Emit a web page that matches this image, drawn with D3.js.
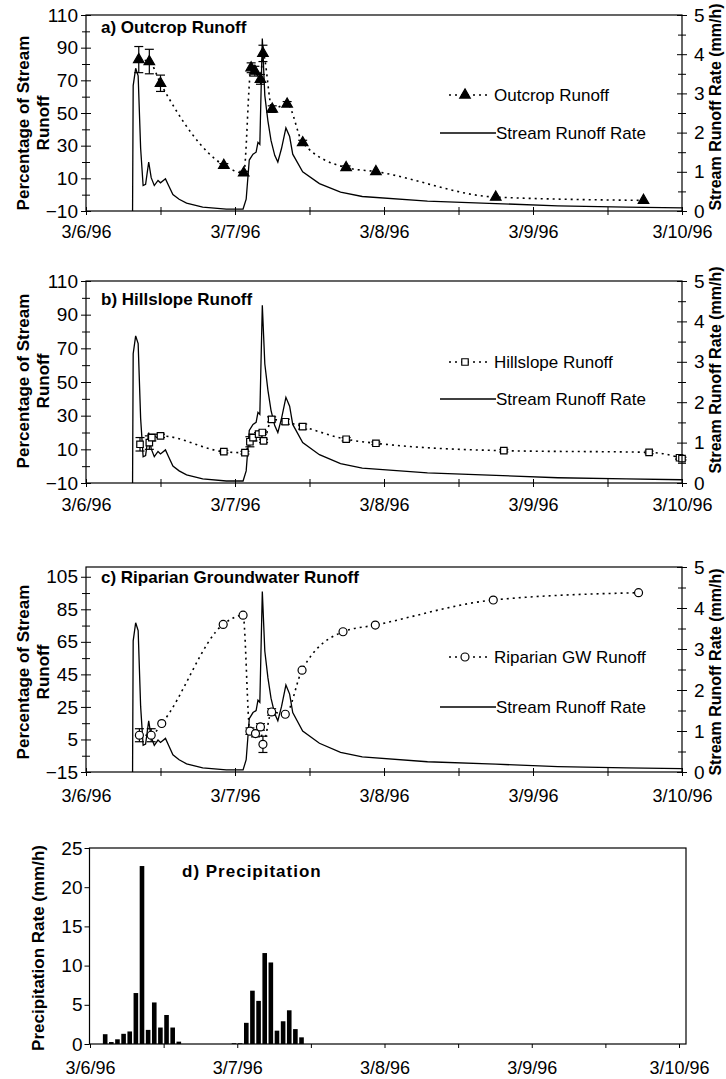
<!DOCTYPE html>
<html>
<head>
<meta charset="utf-8">
<script src="https://cdn.jsdelivr.net/npm/d3@7"></script>
<style>
  body { margin: 0; background: #fff; }
  svg { font-family: "Liberation Sans", Arial, sans-serif; }
</style>
</head>
<body>
<svg id="chart" width="726" height="1079"></svg>
<script>
// all times are hours since 3/6/96 00:00
const dayLabels = ["3/6/96", "3/7/96", "3/8/96", "3/9/96", "3/10/96"];

// stream runoff rate (mm/h), right axis of panels a-c
const streamHour = [7.5, 7.6, 8.0, 8.4, 8.8, 9.2, 9.6, 10.1, 10.5, 11.0, 11.6, 12.0, 12.8, 13.3, 14.0, 15.0, 16.2, 18.8, 22.6, 25.3,
  25.8, 26.3, 26.9, 27.4, 27.7, 28.0, 28.4, 28.8, 29.3, 29.8, 30.4, 30.9, 31.5, 32.2, 32.8, 33.3, 34.9, 37.6, 41.0, 44.5,
  55.0, 66.0, 76.0, 87.0, 96.0];
const streamRate = [0, 3.2, 3.64, 3.45, 1.6, 0.65, 0.68, 1.25, 0.85, 0.65, 0.78, 0.72, 0.82, 0.65, 0.42, 0.3, 0.2, 0.1, 0.05, 0.05,
  0.3, 1.3, 1.45, 1.5, 1.75, 1.7, 4.4, 2.95, 2.3, 1.8, 1.42, 1.25, 1.6, 2.12, 1.9, 1.45, 1.0, 0.7, 0.48, 0.37,
  0.25, 0.19, 0.13, 0.1, 0.08];

// a) outcrop runoff, % of stream runoff
const outcropHour = [8.5, 10.2, 12.0, 22.2, 25.4, 26.6, 27.2, 28.1, 28.5, 30.0, 32.4, 34.9, 41.9, 46.7, 66.0, 89.8];
const outcropPct = [82.7, 81.5, 68.2, 18.0, 13.3, 77.7, 75.6, 70.6, 86.5, 52.4, 55.5, 31.8, 16.6, 14.1, -1.5, -3.5];
const outcropErr = [8, 7.5, 5, 1, 1, 3, 3, 3, 5, 2, 1.5, 1.5, 1, 0, 0, 0];

// b) hillslope runoff
const hillHour = [8.7, 10.2, 10.6, 12.0, 22.2, 25.6, 26.4, 26.9, 27.8, 28.4, 28.6, 29.9, 32.1, 34.9, 41.9, 46.7, 67.3, 90.7, 95.6, 96.0];
const hillPct = [13, 14, 17, 18, 8.6, 8.0, 14.5, 17, 19, 20, 15, 27.8, 26.4, 23.5, 16.0, 13.6, 9.2, 8.2, 5.0, 4.5];
const hillErr = [4, 4, 2, 1, 0.8, 0.8, 3, 2, 1, 1, 1, 1.5, 1.5, 1.5, 1, 0.8, 0.8, 0.8, 0.8, 0.8];

// c) riparian groundwater runoff
const riparianHour = [8.6, 10.5, 12.2, 22.1, 25.3, 26.4, 27.3, 28.1, 28.5, 29.9, 32.1, 34.8, 41.4, 46.6, 65.6, 89.0];
const riparianPct = [7.6, 7.6, 14.8, 75.7, 81.4, 10.1, 8.6, 12.7, 2.0, 21.9, 20.5, 47.6, 71.2, 75.3, 90.7, 95.2];
const riparianErr = [4, 4, 0, 0, 0, 2, 2, 2, 5, 2, 0, 0, 0, 0, 0, 0];

// d) hourly precipitation (mm/h), hour = start of interval
const precipHour = [2, 3, 4, 5, 6, 7, 8, 9, 10, 11, 12, 13, 14, 23, 24, 25, 26, 27, 28, 29, 30, 31, 32, 33, 34];
const precipRate = [1.25, 0.25, 0.6, 1.3, 1.6, 6.5, 22.7, 1.8, 5.3, 2.1, 3.7, 2.1, 0.3, 0.1, 0.1,
  2.7, 6.8, 5.5, 11.6, 10.4, 1.7, 2.9, 4.3, 1.9, 0.85];

const FONT = '"Liberation Sans", Arial, sans-serif';
const svg = d3.select("#chart");

function styleAxis(g, size) {
  g.attr("font-size", size).attr("font-family", FONT);
  g.select(".domain").remove();
  g.selectAll(".tick text").attr("fill", "#000");
  g.selectAll(".tick line").attr("stroke", "#000");
}

function runoffPanel(p) {
  const g = svg.append("g");
  const x = d3.scaleLinear().domain([0, 96]).range([86, 682]);
  const yL = d3.scaleLinear().domain(p.pctDomain).range([p.bottom, p.top]);
  const yR = d3.scaleLinear().domain([0, 5]).range([p.bottom, p.top]);

  // stream runoff rate
  g.append("path")
    .datum(d3.range(streamHour.length))
    .attr("d", d3.line().x(i => x(streamHour[i])).y(i => yR(streamRate[i])))
    .attr("fill", "none")
    .attr("stroke", "#000")
    .attr("stroke-width", 1.3);

  // dotted tracer series
  const idx = d3.range(p.hour.length);
  g.append("path")
    .datum(idx)
    .attr("d", d3.line().curve(d3.curveMonotoneX).x(i => x(p.hour[i])).y(i => yL(p.pct[i])))
    .attr("fill", "none")
    .attr("stroke", "#000")
    .attr("stroke-width", 1.6)
    .attr("stroke-dasharray", "2,4");

  // error bars
  const eb = g.selectAll(".eb").data(idx.filter(i => p.err[i] > 0)).enter().append("g");
  eb.append("line")
    .attr("x1", i => x(p.hour[i])).attr("x2", i => x(p.hour[i]))
    .attr("y1", i => yL(p.pct[i] - p.err[i])).attr("y2", i => yL(p.pct[i] + p.err[i]));
  eb.append("line")
    .attr("x1", i => x(p.hour[i]) - 4.5).attr("x2", i => x(p.hour[i]) + 4.5)
    .attr("y1", i => yL(p.pct[i] + p.err[i])).attr("y2", i => yL(p.pct[i] + p.err[i]));
  eb.append("line")
    .attr("x1", i => x(p.hour[i]) - 4.5).attr("x2", i => x(p.hour[i]) + 4.5)
    .attr("y1", i => yL(p.pct[i] - p.err[i])).attr("y2", i => yL(p.pct[i] - p.err[i]));
  eb.selectAll("line").attr("stroke", "#000").attr("stroke-width", 1.2);

  // markers
  const sym = d3.symbol().type(p.symbol).size(p.symSize);
  g.selectAll(".mk").data(idx).enter().append("path")
    .attr("d", sym)
    .attr("transform", i => `translate(${x(p.hour[i])},${yL(p.pct[i])})`)
    .attr("fill", p.filled ? "#000" : "#fff")
    .attr("stroke", "#000")
    .attr("stroke-width", 1.2);

  // frame
  g.append("rect")
    .attr("x", 86).attr("y", p.top)
    .attr("width", 596).attr("height", p.bottom - p.top)
    .attr("fill", "none").attr("stroke", "#000").attr("stroke-width", 1.2);

  // left axis
  const la = g.append("g").attr("transform", "translate(86,0)")
    .call(d3.axisLeft(yL).tickValues(p.major).tickSize(5).tickPadding(3));
  styleAxis(la, 19);
  la.selectAll(".tick line").attr("x1", 5);
  const lm = g.append("g").attr("transform", "translate(86,0)")
    .call(d3.axisLeft(yL).tickValues(p.minor).tickSize(4).tickFormat(""));
  styleAxis(lm, 19);
  lm.selectAll(".tick line").attr("x1", 4);

  // right axis
  const ra = g.append("g").attr("transform", "translate(682,0)")
    .call(d3.axisRight(yR).tickValues([0, 1, 2, 3, 4, 5]).tickFormat(d3.format("d")).tickSize(5).tickPadding(7));
  styleAxis(ra, 19);
  ra.selectAll(".tick line").attr("x1", -5);
  const rm = g.append("g").attr("transform", "translate(682,0)")
    .call(d3.axisRight(yR).tickValues([0.5, 1.5, 2.5, 3.5, 4.5]).tickSize(4).tickFormat(""));
  styleAxis(rm, 19);
  rm.selectAll(".tick line").attr("x1", -4);

  // time axis
  const xa = g.append("g").attr("transform", `translate(0,${p.bottom})`)
    .call(d3.axisBottom(x).tickValues(d3.range(0, 97, 12)).tickSize(4).tickPadding(p.datePad)
      .tickFormat(h => h % 24 === 0 ? dayLabels[h / 24] : ""));
  styleAxis(xa, 18);
  xa.selectAll(".tick line").attr("y1", -4);

  // titles
  g.append("text").attr("x", 101).attr("y", p.titleY)
    .attr("font-size", 17).attr("font-weight", "bold").text(p.title);

  const lt = g.append("text")
    .attr("transform", `translate(29,${p.leftTitleY}) rotate(-90)`)
    .attr("text-anchor", "middle").attr("font-size", 17).attr("font-weight", "bold");
  lt.append("tspan").attr("x", 0).attr("y", 0).text("Percentage of Stream");
  lt.append("tspan").attr("x", 0).attr("y", 19.5).text("Runoff");

  g.append("text")
    .attr("transform", `translate(721,${p.rightTitleY}) rotate(-90)`)
    .attr("text-anchor", "middle").attr("font-size", 16).attr("font-weight", "bold")
    .text("Stream Runoff Rate (mm/h)");

  // legend
  g.append("line").attr("x1", 449).attr("x2", 490).attr("y1", p.legY1).attr("y2", p.legY1)
    .attr("stroke", "#000").attr("stroke-width", 1.6).attr("stroke-dasharray", "2,4");
  g.append("path").attr("d", sym)
    .attr("transform", `translate(465,${p.legY1})`)
    .attr("fill", p.filled ? "#000" : "#fff").attr("stroke", "#000").attr("stroke-width", 1.2);
  g.append("text").attr("x", 494).attr("y", p.legY1 + 6).attr("font-size", 17).text(p.legend);
  g.append("line").attr("x1", 440).attr("x2", 496).attr("y1", p.legY2).attr("y2", p.legY2)
    .attr("stroke", "#000").attr("stroke-width", 1.3);
  g.append("text").attr("x", 496).attr("y", p.legY2 + 6).attr("font-size", 17).text("Stream Runoff Rate");
}

runoffPanel({
  top: 15, bottom: 211, pctDomain: [-10, 110],
  major: [-10, 10, 30, 50, 70, 90, 110], minor: [0, 20, 40, 60, 80, 100],
  hour: outcropHour, pct: outcropPct, err: outcropErr,
  symbol: d3.symbolTriangle, symSize: 48, filled: true,
  title: "a) Outcrop Runoff", titleY: 33, legend: "Outcrop Runoff",
  legY1: 95, legY2: 133, leftTitleY: 123, rightTitleY: 107, datePad: 10
});

runoffPanel({
  top: 281, bottom: 483, pctDomain: [-10, 110],
  major: [-10, 10, 30, 50, 70, 90, 110], minor: [0, 20, 40, 60, 80, 100],
  hour: hillHour, pct: hillPct, err: hillErr,
  symbol: d3.symbolSquare, symSize: 42, filled: false,
  title: "b) Hillslope Runoff", titleY: 305, legend: "Hillslope Runoff",
  legY1: 362, legY2: 399, leftTitleY: 381, rightTitleY: 370, datePad: 11
});

runoffPanel({
  top: 567, bottom: 772, pctDomain: [-15, 111],
  major: [-15, 5, 25, 45, 65, 85, 105], minor: [-5, 15, 35, 55, 75, 95],
  hour: riparianHour, pct: riparianPct, err: riparianErr,
  symbol: d3.symbolCircle, symSize: 50, filled: false,
  title: "c) Riparian Groundwater Runoff", titleY: 583, legend: "Riparian GW Runoff",
  legY1: 657, legY2: 707, leftTitleY: 672, rightTitleY: 672, datePad: 13
});

// d) precipitation
{
  const g = svg.append("g");
  const x = d3.scaleLinear().domain([0, 96]).range([90, 679]);
  const y = d3.scaleLinear().domain([0, 25]).range([1044, 848]);

  g.selectAll(".bar").data(d3.range(precipHour.length)).enter().append("rect")
    .attr("x", i => x(precipHour[i] + 0.1))
    .attr("width", i => x(precipHour[i] + 0.85) - x(precipHour[i] + 0.1))
    .attr("y", i => y(precipRate[i]))
    .attr("height", i => y(0) - y(precipRate[i]))
    .attr("fill", "#000");

  g.append("rect").attr("x", 89.5).attr("y", 848).attr("width", 596.5).attr("height", 196)
    .attr("fill", "none").attr("stroke", "#000").attr("stroke-width", 1.2);

  const ya = g.append("g").attr("transform", "translate(89.5,0)")
    .call(d3.axisLeft(y).tickValues([0, 5, 10, 15, 20, 25]).tickSize(5).tickPadding(2));
  styleAxis(ya, 19);

  const xa = g.append("g").attr("transform", "translate(0,1044)")
    .call(d3.axisBottom(x).tickValues(d3.range(0, 97, 12)).tickSize(4).tickPadding(13)
      .tickFormat(h => h % 24 === 0 ? dayLabels[h / 24] : ""));
  styleAxis(xa, 18);

  g.append("text").attr("x", 182).attr("y", 877)
    .attr("font-size", 17).attr("font-weight", "bold").attr("letter-spacing", 1)
    .text("d) Precipitation");

  g.append("text")
    .attr("transform", "translate(44,948) rotate(-90)")
    .attr("text-anchor", "middle").attr("font-size", 17).attr("font-weight", "bold")
    .text("Precipitation Rate (mm/h)");
}
</script>
</body>
</html>
